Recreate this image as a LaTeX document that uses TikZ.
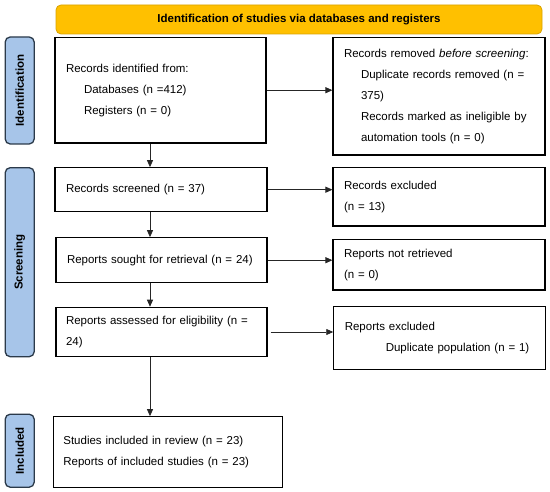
\documentclass[tikz,border=0pt]{standalone}
\usepackage{fontspec}
\setmainfont{Liberation Sans}
\usetikzlibrary{arrows.meta}
\definecolor{bannerfill}{HTML}{FFC000}
\definecolor{bannerdraw}{HTML}{D9A200}
\definecolor{sidefill}{HTML}{A7C5E9}
\definecolor{sidedraw}{HTML}{2B3A4A}
\begin{document}
\begin{tikzpicture}[x=1pt,y=-1pt,
  txt/.style={font=\fontsize{11.5}{21}\selectfont},
  box/.style={draw=black, line width=1.1pt, align=left, inner xsep=11pt, inner ysep=0pt, txt},
  side/.style={draw=sidedraw, fill=sidefill, line width=1.3pt, rounded corners=5pt,
    font=\bfseries\fontsize{11.5}{14}\selectfont, rotate=90, inner sep=0pt, minimum height=29pt},
  banner/.style={draw=bannerdraw, fill=bannerfill, line width=0.8pt, rounded corners=5pt,
    font=\bfseries\fontsize{11.5}{14}\selectfont, inner sep=0pt},
  arr/.style={-{Triangle[length=7pt,width=6pt]}, line width=0.8pt, draw=black!85}
]
\useasboundingbox (0,0) rectangle (550,492);
\fill[white] (0,0) rectangle (550,492);

% banner
\node[banner, minimum width=486pt, minimum height=29pt] (ban) at (299,19.5)
  {Identification of studies via databases and registers};

% side bars
\node[side, minimum width=107pt] (sid) at (19.7,90.5) {Identification};
\node[side, minimum width=189pt] (sscr) at (19.7,262.2) {Screening};
\node[side, minimum width=73pt] (sinc) at (19.7,450.7) {Included};

% left column
\node[box, text width=189pt, minimum height=105.7pt] (b1) at (160.5,90.2)
  {Records identified from:\\
   \hspace*{18pt}Databases (n =412)\\
   \hspace*{18pt}Registers (n = 0)};
\node[box, text width=190pt, minimum height=44pt] (b2) at (161,189.7)
  {Records screened (n = 37)};
\node[box, text width=189pt, minimum height=45pt] (b3) at (161.5,260.2)
  {Reports sought for retrieval (n = 24)};
\node[box, inner xsep=10pt, text width=191pt, minimum height=49.4pt] (b4) at (161.5,332)
  {\makebox[191pt][s]{Reports assessed for eligibility (n =}\\24)};
\node[box, inner xsep=10pt, text width=208.7pt, minimum height=70.6pt] (b5) at (167.7,452)
  {Studies included in review (n = 23)\\
   Reports of included studies (n = 23)};

% right column
\node[box, text width=190pt, minimum height=117.7pt] (r1) at (439,96.2)
  {Records removed \textit{before screening}:\\
   \hspace*{17pt}\makebox[172pt][s]{Duplicate records removed (n =}\\
   \hspace*{17pt}375)\\
   \hspace*{17pt}\makebox[172pt][s]{Records marked as ineligible by}\\
   \hspace*{17pt}automation tools (n = 0)};
\node[box, text width=190pt, minimum height=58.7pt] (r2) at (439,196.7)
  {Records excluded\\(n = 13)};
\node[box, text width=190pt, minimum height=50.7pt] (r3) at (439,264.7)
  {Reports not retrieved\\(n = 0)};
\node[box, text width=190pt, minimum height=63.3pt] (r4) at (439.8,338.3)
  {Reports excluded\\\hspace*{41pt}Duplicate population (n = 1)};

% connectors
\coordinate (colx) at (150,0);
\draw[arr] (b1.east) -- (b1.east -| r1.west);
\draw[arr] (b2.east) -- (b2.east -| r2.west);
\draw[arr] (b3.east) -- (b3.east -| r3.west);
\draw[arr, shorten <=3pt] (b4.east) -- (b4.east -| r4.west);
\draw[arr] (b1.south -| colx) -- (b2.north -| colx);
\draw[arr] (b2.south -| colx) -- (b3.north -| colx);
\draw[arr] (b3.south -| colx) -- (b4.north -| colx);
\draw[arr] (b4.south -| colx) -- (b5.north -| colx);
\end{tikzpicture}
\end{document}
